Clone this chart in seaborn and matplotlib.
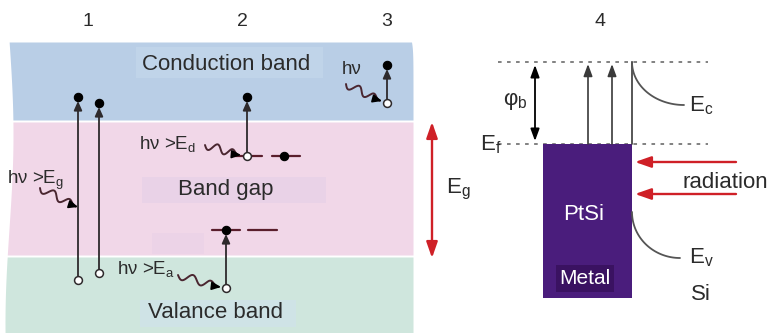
import numpy as np
import matplotlib
matplotlib.use("Agg")
import matplotlib.pyplot as plt
import seaborn as sns

# -- Diagram data (pixel units of the 773x333 canvas, y grows downward) -------
band_names   = ["Conduction band", "Band gap", "Valance band"]
band_top     = [42, 122, 257]
band_bottom  = [120, 255, 333]
band_colors  = ["#b9cee6", "#f1d7e8", "#cfe6dd"]

panel_labels = ["1", "2", "3", "4"]
panel_x      = [88, 242, 387, 600]

# transitions: x, start level (open circle), end level (filled dot)
trans_x      = [78, 99, 247, 226, 387]
trans_from   = [280, 273, 156, 288, 103]
trans_to     = [97, 103, 97, 230, 65]

# impurity levels (donor, acceptor)
level_y      = [156, 156, 230, 230]
level_x0     = [234, 272, 212, 248]
level_x1     = [262, 300, 240, 277]
extra_dot_x  = [284]
extra_dot_y  = [156]

photon_labels = ["hν >E$_g$", "hν >E$_d$", "hν >E$_a$", "hν"]
photon_text_x = [7, 139, 117, 342]
photon_text_y = [180, 144, 269, 69]
photon_x0     = [40, 205, 178, 346]
photon_y0     = [188, 145, 275, 84]
photon_x1     = [78, 241, 221, 382]
photon_y1     = [207, 155, 287, 101]

# Schottky panel (PtSi / Si)
ec_level, ef_level = 62, 144
metal_x0, metal_x1, metal_bottom = 543, 632, 298
barrier_x    = 535
emit_x       = [588, 612]
rad_y        = [162, 194]

sns.set_theme(style="white")
plt.rcParams["font.family"] = ["Liberation Sans", "DejaVu Sans"]
plt.rcParams["mathtext.default"] = "regular"

fig = plt.figure(figsize=(7.73, 3.33), dpi=100)
ax = fig.add_axes([0, 0, 1, 1])
ax.set_xlim(0, 773)
ax.set_ylim(333, 0)
ax.axis("off")

TXT = "#2b2b2b"
LINE = "#2e2a2c"
RED = "#cf2027"
BIG = 16

# -- bands with slightly wavy left edge ----------------------------------------
for top, bot, col in zip(band_top, band_bottom, band_colors):
    yy = np.linspace(top, bot, 40)
    left = 9 + 4 * np.sin((yy - 40) / 60.0)
    right = 413 - 1.5 * np.exp(-(yy - 42) / 8.0)
    ax.fill_betweenx(yy, left, right, color=col, lw=0, zorder=0)

# faint highlight boxes behind labels
ax.add_patch(plt.Rectangle((136, 47), 187, 31, color="#c0d4e9", lw=0, zorder=0.5))
ax.add_patch(plt.Rectangle((142, 177), 184, 26, color="#e9d2e7", lw=0, zorder=0.5))
ax.add_patch(plt.Rectangle((152, 233), 52, 21, color="#ecd3e7", lw=0, zorder=0.5))
ax.add_patch(plt.Rectangle((140, 300), 156, 27, color="#cfe3e6", lw=0, zorder=0.5))

ax.text(226, 64, band_names[0], ha="center", va="center", fontsize=BIG, color=TXT)
ax.text(226, 189, band_names[1], ha="center", va="center", fontsize=BIG, color=TXT)
ax.text(216, 313, band_names[2], ha="center", va="center", fontsize=BIG, color=TXT)

for lab, x in zip(panel_labels, panel_x):
    ax.text(x, 22, lab, ha="center", va="center", fontsize=14, color=TXT)

# -- impurity levels ----------------------------------------------------------
for y, a, b in zip(level_y, level_x0, level_x1):
    ax.plot([a, b], [y, y], color="#5a1e2c", lw=1.6, zorder=2)

# -- transitions --------------------------------------------------------------
for x, y0, y1 in zip(trans_x, trans_from, trans_to):
    ax.annotate("", xy=(x, y1 + 4), xytext=(x, y0),
                arrowprops=dict(arrowstyle="-|>,head_length=0.45,head_width=0.2",
                                color=LINE, lw=1.3, shrinkA=0, shrinkB=0), zorder=3)
sns.scatterplot(x=trans_x + extra_dot_x, y=trans_to + extra_dot_y, ax=ax,
                color="black", s=36, edgecolor="black", linewidth=0.8, zorder=4, legend=False)
sns.scatterplot(x=trans_x, y=trans_from, ax=ax, color="white", s=32,
                edgecolor=LINE, linewidth=1.1, zorder=4, legend=False)


# -- photons (wavy arrows) ----------------------------------------------------
def wavy(x0, y0, x1, y1):
    d = np.hypot(x1 - x0, y1 - y0)
    t = np.linspace(0, 1, 120)
    ux, uy = (x1 - x0) / d, (y1 - y0) / d
    amp = 4.0 * np.clip((1 - t) / 0.3, 0, 1)
    off = amp * np.sin(t * 2 * np.pi * 2.3)
    xs = x0 + ux * d * t - uy * off
    ys = y0 + uy * d * t + ux * off
    ax.plot(xs[:-6], ys[:-6], color="#4a2630", lw=1.4, zorder=3)
    ax.annotate("", xy=(x1, y1), xytext=(xs[-12], ys[-12]),
                arrowprops=dict(arrowstyle="-|>,head_length=0.45,head_width=0.2",
                                color="black", lw=1.2, shrinkA=0, shrinkB=0), zorder=3)


for lab, tx, ty, a, b, c, d in zip(photon_labels, photon_text_x, photon_text_y,
                                   photon_x0, photon_y0, photon_x1, photon_y1):
    ax.text(tx, ty, lab, ha="left", va="center", fontsize=13.5, color=TXT)
    wavy(a, b, c, d)

# -- band gap arrow -----------------------------------------------------------
ax.annotate("", xy=(432, band_top[1]), xytext=(432, band_bottom[1] + 3),
            arrowprops=dict(arrowstyle="<|-|>,head_length=0.8,head_width=0.28",
                            color=RED, lw=1.7, shrinkA=0, shrinkB=0))
ax.text(446, 189, "E$_g$", ha="left", va="center", fontsize=BIG, color=TXT)

# -- Schottky panel -----------------------------------------------------------
ax.plot([498, 708], [ec_level, ec_level], color="#777777", lw=1.3, ls=(0, (2, 3)))
ax.plot([498, 708], [ef_level, ef_level], color="#777777", lw=1.3, ls=(0, (2, 3)))
ax.add_patch(plt.Rectangle((metal_x0, ef_level), metal_x1 - metal_x0,
                           metal_bottom - ef_level, color="#4a1d7c", lw=0, zorder=2))
ax.add_patch(plt.Rectangle((556, 265), 58, 27, color="#3a1261", lw=0, zorder=2.5))
ax.text(584, 215, "PtSi", ha="center", va="center", fontsize=BIG, color="white", zorder=3)
ax.text(585, 278, "Metal", ha="center", va="center", fontsize=15, color="white", zorder=3)
ax.text(480, 145, "E$_f$", ha="left", va="center", fontsize=BIG, color=TXT)

ax.annotate("", xy=(barrier_x, ec_level + 3), xytext=(barrier_x, ef_level - 3),
            arrowprops=dict(arrowstyle="<|-|>,head_length=0.6,head_width=0.22",
                            color="black", lw=1.3, shrinkA=0, shrinkB=0))
ax.text(503, 101, "φ$_b$", ha="left", va="center", fontsize=BIG, color=TXT)

for x in emit_x:
    ax.annotate("", xy=(x, ec_level + 2), xytext=(x, ef_level),
                arrowprops=dict(arrowstyle="-|>,head_length=0.6,head_width=0.22",
                                color="#3a3a3a", lw=1.2, shrinkA=0, shrinkB=0))
ax.plot([metal_x1, metal_x1], [ec_level, ef_level], color="#3a3a3a", lw=1.2)

tt = np.linspace(0, np.pi / 2, 50)
ax.plot(metal_x1 + 52 * (1 - np.cos(tt)), ec_level + 43 * np.sin(tt), color="#555555", lw=1.3)
ax.plot(metal_x1 + 48 * (1 - np.cos(tt)), 212 + 46 * np.sin(tt), color="#555555", lw=1.3)
ax.text(689, 106, "E$_c$", ha="left", va="center", fontsize=BIG, color=TXT)
ax.text(689, 258, "E$_v$", ha="left", va="center", fontsize=BIG, color=TXT)
ax.text(691, 295, "Si", ha="left", va="center", fontsize=BIG, color=TXT)

for y in rad_y:
    ax.annotate("", xy=(metal_x1 + 3, y), xytext=(736, y),
                arrowprops=dict(arrowstyle="-|>,head_length=0.8,head_width=0.28",
                                color=RED, lw=1.7, shrinkA=0, shrinkB=0))
ax.text(682, 182, "radiation", ha="left", va="center", fontsize=BIG, color=TXT)

fig.savefig("out.png", dpi=100)
